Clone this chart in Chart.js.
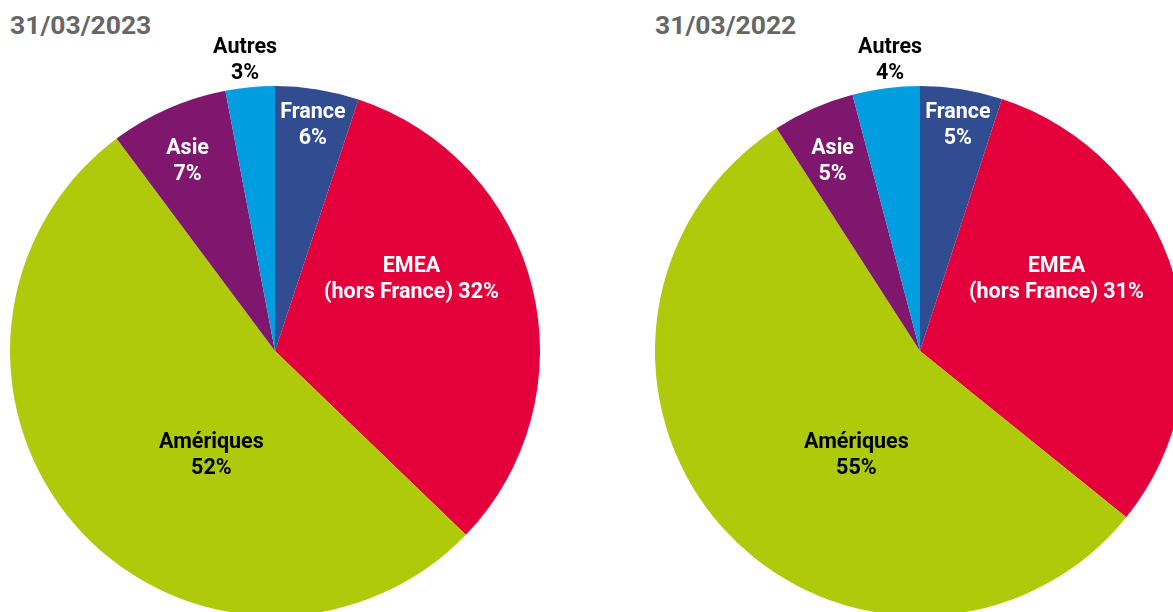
<!DOCTYPE html>
<html>
<head>
<meta charset="utf-8">
<script src="https://cdn.jsdelivr.net/npm/chart.js@4"></script>
<style>
  html, body { margin: 0; padding: 0; background: #fff; overflow: hidden; width: 1173px; height: 612px; }
  .title { position: absolute; top: 9px; font: bold 26.5px Roboto, sans-serif; color: #666; }
  .pie { position: absolute; top: 26px; width: 530px; height: 590px; }
</style>
</head>
<body>
<div class="title" style="left:10px">31/03/2023</div>
<div class="title" style="left:655px">31/03/2022</div>
<div class="pie" style="left:10px"><canvas id="c2023"></canvas></div>
<div class="pie" style="left:655px"><canvas id="c2022"></canvas></div>
<script>
const regions = ['France', 'EMEA', 'Amériques', 'Asie', 'Autres'];
const colors = ['#314C91', '#E4003B', '#AFCA0B', '#80176E', '#009EE0'];
// slice sizes (%), labels as printed
const values2023 = [5.1, 32.1, 52.6, 7.2, 3.0];
const labels2023 = ['6%', '32%', '52%', '7%', '3%'];
const values2022 = [5.0, 30.8, 55.1, 5.0, 4.1];
const labels2022 = ['5%', '31%', '55%', '5%', '4%'];

// label text lines, placement relative to pie centre in radius units
const labelSpecs = [
  { lines: (p) => ['France', p], pos: [0.143, -0.85], color: '#fff' },
  { lines: (p) => ['EMEA', '(hors France) ' + p], pos: [0.515, -0.27], color: '#fff' },
  { lines: (p) => ['Amériques', p], pos: [-0.24, 0.395], color: '#000' },
  { lines: (p) => ['Asie', p], pos: [-0.33, -0.715], color: '#fff' },
  { lines: (p) => ['Autres', p], pos: [-0.113, -1.095], color: '#000' }
];

const sliceLabels = {
  id: 'sliceLabels',
  afterDraw(chart, args, opts) {
    const ctx = chart.ctx;
    const arcs = chart.getDatasetMeta(0).data;
    ctx.save();
    ctx.font = 'bold 21.5px Roboto, sans-serif';
    ctx.textAlign = 'center';
    ctx.textBaseline = 'middle';
    arcs.forEach((arc, i) => {
      const spec = labelSpecs[i];
      const cx = arc.x + spec.pos[0] * arc.outerRadius;
      const cy = arc.y + spec.pos[1] * arc.outerRadius;
      const lines = spec.lines(opts.pct[i]);
      ctx.fillStyle = spec.color;
      lines.forEach((t, k) => {
        ctx.fillText(t, cx, cy + (k - (lines.length - 1) / 2) * 26);
      });
    });
    ctx.restore();
  }
};

function makePie(id, values, pct) {
  new Chart(document.getElementById(id), {
    type: 'pie',
    data: {
      labels: regions,
      datasets: [{ data: values, backgroundColor: colors, borderWidth: 0 }]
    },
    options: {
      responsive: true,
      maintainAspectRatio: false,
      animation: false,
      layout: { padding: { top: 60, bottom: 0, left: 0, right: 0 } },
      plugins: {
        legend: { display: false },
        tooltip: { enabled: false },
        sliceLabels: { pct: pct }
      }
    },
    plugins: [sliceLabels]
  });
}

makePie('c2023', values2023, labels2023);
makePie('c2022', values2022, labels2022);
</script>
</body>
</html>
